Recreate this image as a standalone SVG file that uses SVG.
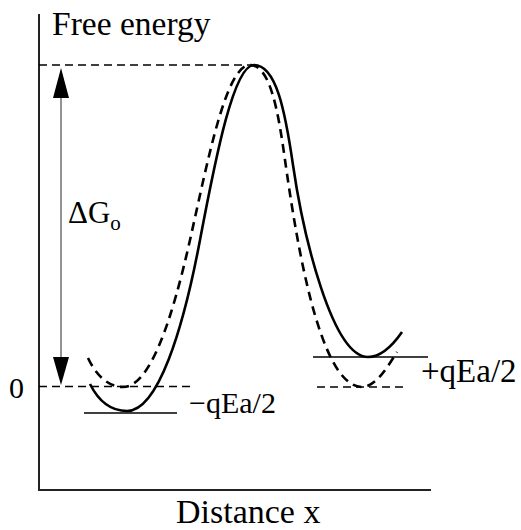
<svg xmlns="http://www.w3.org/2000/svg" width="521" height="530" viewBox="0 0 521 530">
<style>
.t{font-family:"Liberation Serif","Times New Roman",serif;fill:#000}
.ax{stroke:#222;stroke-width:2;fill:none}
.dl{stroke:#000;stroke-width:1.5;stroke-dasharray:8 5;fill:none}
.sc{stroke:#000;stroke-width:2.6;fill:none}
.dc{stroke:#000;stroke-width:2.6;stroke-dasharray:9 6;fill:none}
.lv{stroke:#000;stroke-width:1.6;fill:none}
</style>
<rect width="521" height="530" fill="#fff"/>
<g id="axes">
<path class="ax" d="M39,14 V490 H431"/>
</g>
<g id="levels">
<path class="dl" d="M39,65 H250"/>
<path class="dl" d="M39,386.5 H190"/>
<path class="dl" d="M317,387 H407"/>
<path class="lv" d="M84,413 H177"/>
<path class="lv" d="M313,357 H428"/>
</g>
<g id="connectors">
<line x1="61" y1="95" x2="61" y2="360" stroke="#777" stroke-width="1.6"/>
<polygon points="61,68 53,98 69,98" fill="#000"/>
<polygon points="61,385 53,357 69,357" fill="#000"/>
</g>
<g id="curve-solid">
<path class="sc" d="M90,384 C98,400 110,411 127,411 C158,411 183,330 200,240 C216,155 234,65 254,65 C276,65 285,110 293,165 C303,234 332,357 368,357 C382,357 393,345 402,332"/>
</g>
<g id="curve-dashed">
<path class="dc" d="M88,358 C96,375 108,387 123,387 C150,387 172,320 190,240 C208,160 226,65 250,65 C270,65 278,110 285,160 C295,230 318,387 362,387 C376,387 388,366 397,352"/>
</g>
<g id="labels">
<text class="t" x="52" y="35" font-size="33.5">Free energy</text>
<text class="t" x="68" y="223" font-size="31">ΔG<tspan font-size="21" dy="7">o</tspan></text>
<text class="t" x="9" y="398" font-size="30">0</text>
<text class="t" x="189" y="413" font-size="30">−qEa/2</text>
<text class="t" x="421" y="382" font-size="33">+qEa/2</text>
<text class="t" x="176" y="523" font-size="34">Distance x</text>
</g>
</svg>
